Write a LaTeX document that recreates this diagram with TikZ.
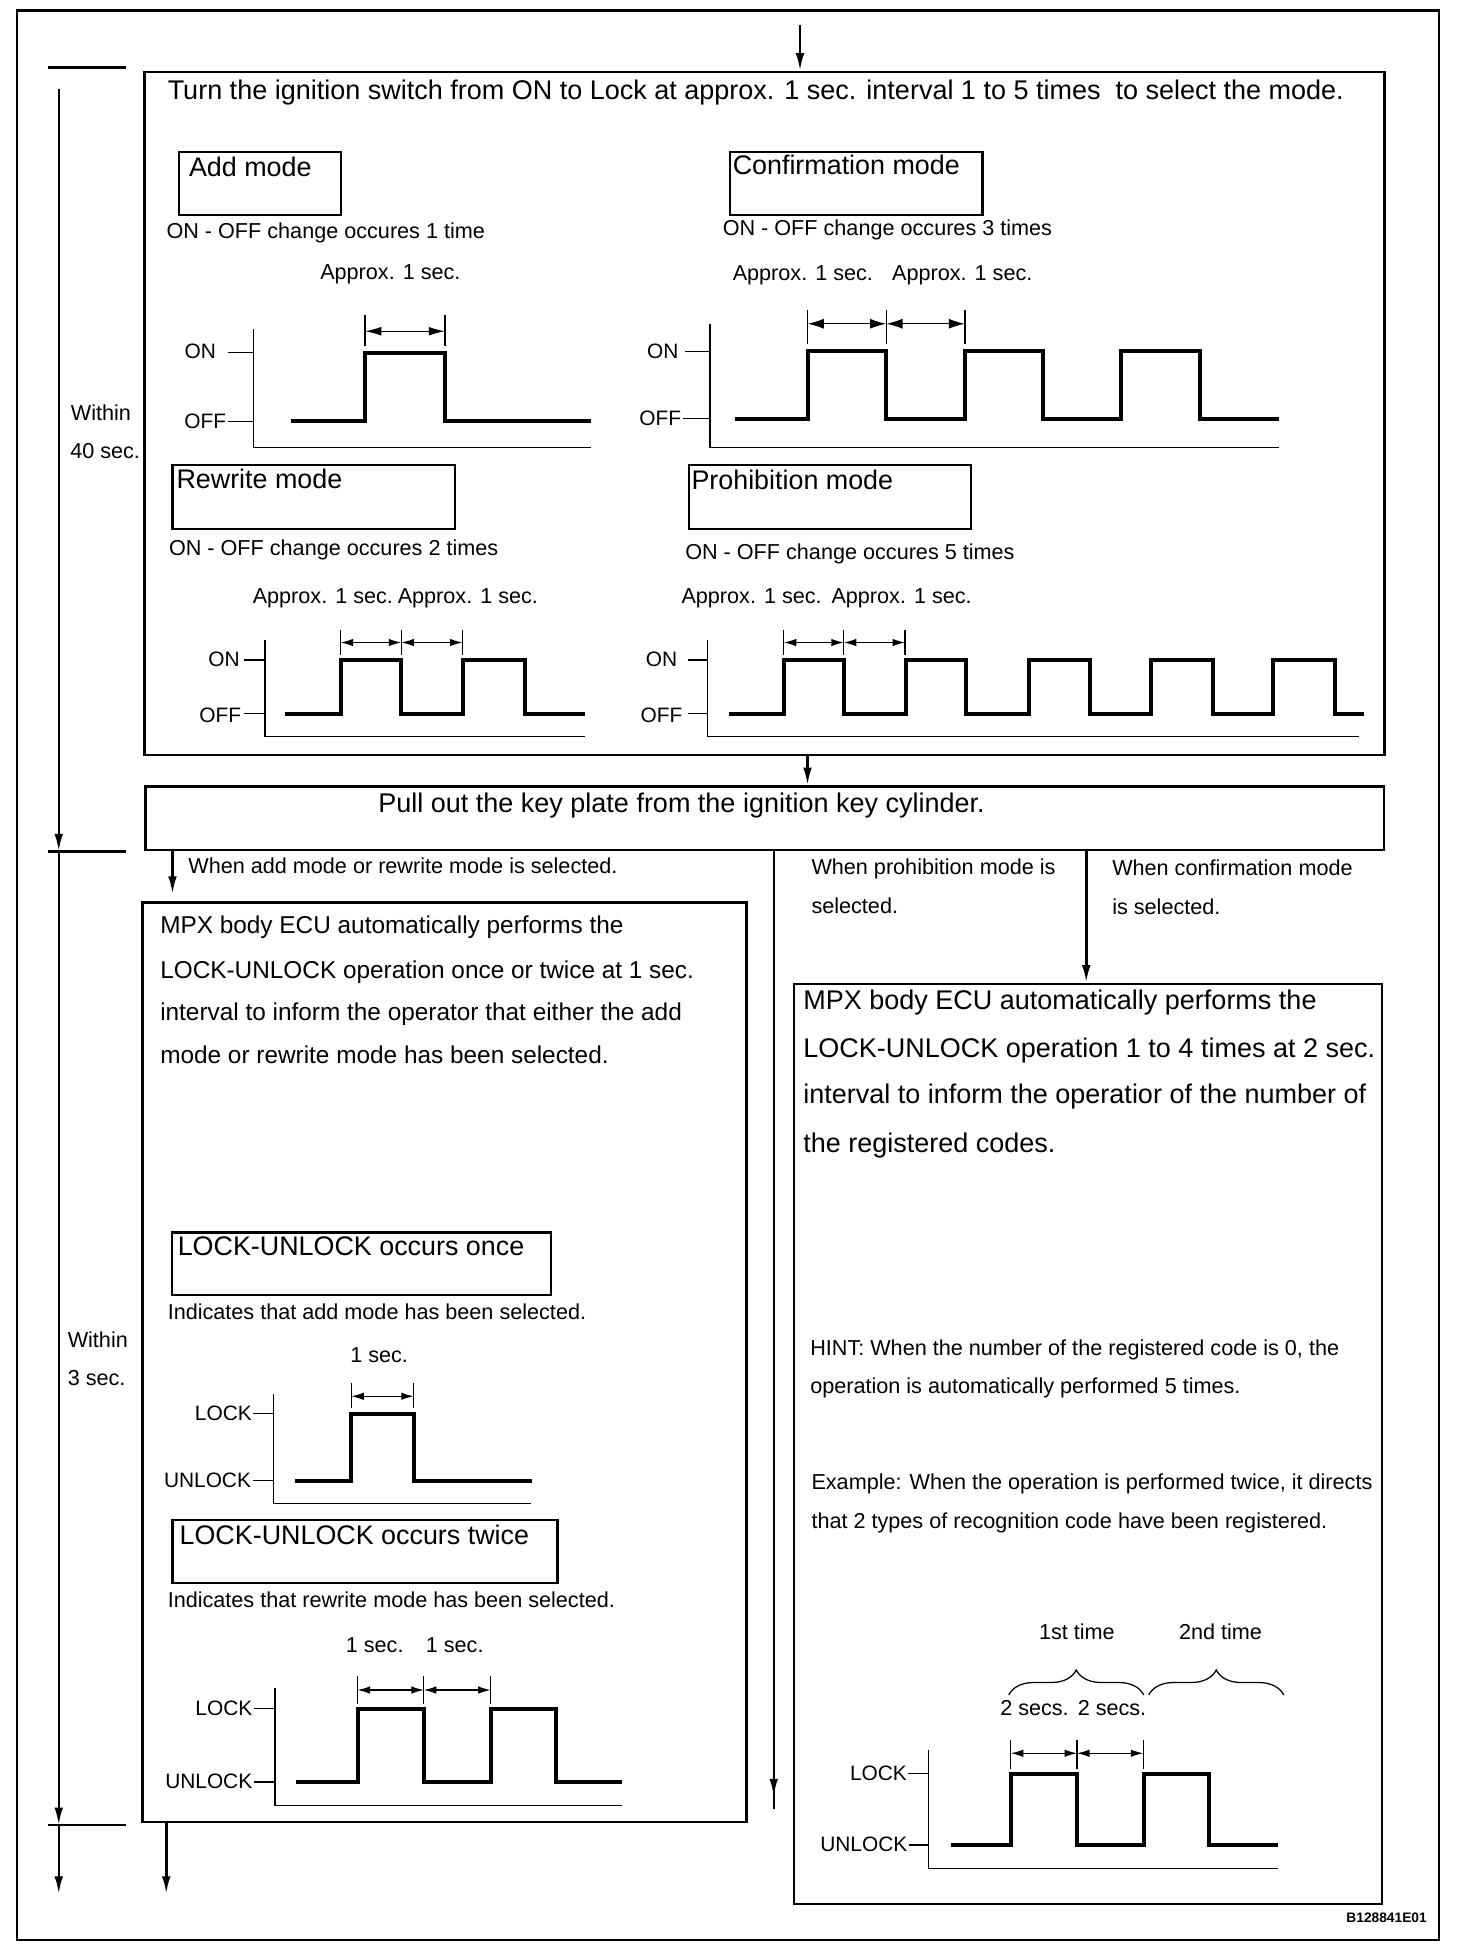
\documentclass[tikz,border=0pt]{standalone}
\usepackage{fontspec}
\setmainfont{Liberation Sans}
\usetikzlibrary{arrows.meta,decorations.pathreplacing,decorations.markings,calc}
\newcommand\fSm{\fontsize{17.3}{20}\selectfont}
\newcommand\fLb{\fontsize{16.7}{20}\selectfont}
\newcommand\fMd{\fontsize{21.5}{25}\selectfont}
\newcommand\fLf{\fontsize{19.5}{23}\selectfont}
\newcommand\fBg{\fontsize{21.6}{25}\selectfont}
\begin{document}
\begin{tikzpicture}[x=1pt,y=-1pt,
  box/.style={draw, line width=2pt, inner sep=0pt, anchor=north west},
  mbox/.style={draw, line width=1.8pt, inner sep=0pt, anchor=north west},
  sig/.style={line width=3.2pt, line join=miter},
  axis/.style={line width=1pt},
  dimtick/.style={line width=0.9pt},
  dimarr/.style={line width=1pt, {Latex[length=10pt,width=6pt]}-{Latex[length=10pt,width=6pt]}},
  tl/.style={line width=2pt},
  flow/.style={line width=2pt, -{Latex[length=14pt,width=7pt]}},
  txt/.style={inner sep=0pt, anchor=mid west, font=\fSm, yshift=-3pt},
  lab/.style={inner sep=0pt, anchor=mid east, font=\fLb, yshift=-2.5pt},
  mtxt/.style={inner sep=0pt, anchor=mid west, font=\fMd, yshift=-4pt},
  ltxt/.style={inner sep=0pt, anchor=mid west, font=\fLf, yshift=-4pt},
  btxt/.style={inner sep=0pt, anchor=mid west, font=\fBg, yshift=-4.5pt},
  brc/.style={line width=1pt, decorate, decoration={brace, amplitude=20pt}}
]
\useasboundingbox (0,0) rectangle (1178,1568);
% outer frame
\node[box, line width=1.8pt, minimum width=1137.5pt, minimum height=1543.5pt] (frame) at (12.5,7.5) {};

% main boxes
\node[box, minimum width=992pt, minimum height=546.5pt] (topbox) at (114.5,56.5) {};
\node[box, minimum width=990.5pt, minimum height=51pt] (pullbox) at (115.5,628) {};
\node[box, minimum width=483pt, minimum height=735.6pt] (leftbox) at (113,721) {};
\node[box, minimum width=470.5pt, minimum height=736pt] (rightbox) at (634,786) {};

% mode boxes
\node[mbox, minimum width=130pt, minimum height=50pt] (addbox) at (142,121) {};
\node[mbox, minimum width=202pt, minimum height=50pt] (confbox) at (583,121) {};
\node[mbox, minimum width=226pt, minimum height=51pt] (rewbox) at (137,371) {};
\node[mbox, minimum width=226pt, minimum height=51pt] (prohbox) at (550,371) {};
\node[mbox, minimum width=303.5pt, minimum height=50pt] (lockonebox) at (136.5,985) {};
\node[mbox, minimum width=308pt, minimum height=50.6pt] (locktwobox) at (137,1215) {};

% texts in top box
\node[btxt] (title) at (134,72.5) {Turn the ignition switch from ON to Lock at approx. 1 sec. interval 1 to 5 times~ to select the mode.};
\node[mtxt] (addt) at (151,134.5) {Add mode};
\node[mtxt] (conft) at (586,133) {Confirmation mode};
\node[mtxt] (rewt) at (141,384) {Rewrite mode};
\node[mtxt] (proht) at (553,385) {Prohibition mode};

\node[txt] (adds) at (133,185.5) {ON - OFF change occures 1 time};
\node[txt] (confs) at (578,183) {ON - OFF change occures 3 times};
\node[txt] (rews) at (135,439) {ON - OFF change occures 2 times};
\node[txt] (prohs) at (548,442) {ON - OFF change occures 5 times};

\node[txt] (adda) at (256,218) {Approx. 1 sec.};
\node[txt] (confa) at (586,219) {Approx. 1 sec.};
\node[txt] (confb) at (713.5,219) {Approx. 1 sec.};
\node[txt] (rewa) at (202,477) {Approx. 1 sec.};
\node[txt] (rewb) at (318,477) {Approx. 1 sec.};
\node[txt] (proha) at (545,477) {Approx. 1 sec.};
\node[txt] (prohb) at (665,477) {Approx. 1 sec.};

% ---- Add chart
\draw[axis] (203,263) -- (203,358) -- (473,358);
\draw[axis] (182,282) -- (203,282);
\draw[axis] (182,337) -- (203,337);
\node[lab] (aon) at (173,282) {ON};
\node[lab] (aoff) at (181,338) {OFF};
\draw[sig] (233,337) -| (292,282) -| (356,337) -- (473,337);
\draw[dimtick] (292,252) -- (292,277) (356,252) -- (356,277);
\draw[dimarr, {Latex[length=13pt,width=7pt]}-{Latex[length=13pt,width=7pt]}] (292,265) -- (356,265);

% ---- Confirmation chart
\draw[axis] (568,259) -- (568,358) -- (1023,358);
\draw[axis] (548,281) -- (568,281);
\draw[axis] (546,335) -- (568,335);
\node[lab] (con) at (543,282) {ON};
\node[lab] (coff) at (545,335) {OFF};
\draw[sig] (588,335) -| (646,281) -| (709,335) -| (772,281) -| (834,335) -| (897,281) -| (960,335) -- (1023,335);
\draw[dimtick] (646,248) -- (646,275) (709,248) -- (709,275) (772,248) -- (772,275);
\draw[dimarr, {Latex[length=13pt,width=8pt]}-{Latex[length=13pt,width=8pt]}] (646,259) -- (709,259);
\draw[dimarr, {Latex[length=13pt,width=8pt]}-{Latex[length=13pt,width=8pt]}] (709,259) -- (772,259);

% ---- Rewrite chart
\draw[axis] (212,512) -- (212,589) -- (468,589);
\draw[axis] (195,528) -- (212,528);
\draw[axis] (195,571) -- (212,571);
\node[lab] (ron) at (192,528) {ON};
\node[lab] (roff) at (193,573) {OFF};
\draw[sig] (228,571) -| (272.5,528) -| (321,571) -| (370,528) -| (420,571) -- (468,571);
\draw[dimtick] (272.5,504) -- (272.5,524) (321,504) -- (321,524) (370,504) -- (370,524);
\draw[dimarr] (272.5,514) -- (321,514);
\draw[dimarr] (321,514) -- (370,514);

% ---- Prohibition chart
\draw[axis] (566,512) -- (566,589) -- (1087,589);
\draw[axis] (550,528) -- (566,528);
\draw[axis] (550,571) -- (566,571);
\node[lab] (pon) at (542,528) {ON};
\node[lab] (poff) at (546,573) {OFF};
\draw[sig] (583,571) -| (627,528) -| (675,571) -| (725,528) -| (773,571) -| (823,528) -| (872,571) -| (921,528) -| (970,571) -| (1018,528) -| (1068,571) -- (1091,571);
\draw[dimtick] (627,504) -- (627,524) (675,504) -- (675,524) (724,504) -- (724,524);
\draw[dimarr] (627,514) -- (675,514);
\draw[dimarr] (675,514) -- (724,514);

% ---- top arrow and connectors
\coordinate (tstart) at (640,20);
\draw[flow] (tstart) -- (topbox.north -| tstart);
\coordinate (xm) at (646,0);
\draw[flow] (topbox.south -| xm) -- (pullbox.north -| xm);
\node[btxt] (pullt) at (302.5,643) {Pull out the key plate from the ignition key cylinder.};

\coordinate (xl) at (138,0);
\draw[flow, shorten >=6pt] (pullbox.south -| xl) -- (leftbox.north -| xl);
\node[txt] (wadd) at (150.5,693) {When add mode or rewrite mode is selected.};

\coordinate (pend) at (619,1447);
\draw[tl, decoration={markings, mark=at position -10pt with {\arrow{Latex[length=14pt,width=7pt]}}}, postaction={decorate}] (pullbox.south -| pend) -- (pend);
\node[txt] (wpa) at (649,693.6) {When prohibition mode is};
\node[txt] (wpb) at (649,725) {selected.};

\coordinate (xc) at (869,0);
\draw[flow] (pullbox.south -| xc) -- (rightbox.north -| xc);
\node[txt] (wca) at (889.6,694.7) {When confirmation mode};
\node[txt] (wcb) at (889.6,725.6) {is selected.};

\coordinate (lend) at (133,1515);
\draw[flow] (leftbox.south -| lend) -- (lend);

% ---- timeline
\coordinate (t0) at (47,71);
\coordinate (t1) at (47,681);
\coordinate (t2) at (47,1460);
\coordinate (t3) at (47,1515);
\draw[tl] (38,54) -- (101,54);
\draw[tl] (38,681) -- (101,681);
\draw[tl] (38,1460) -- (101,1460);
\draw[flow] (t0) -- (t1);
\draw[flow] (t1) -- (t2);
\draw[flow] (t2) -- (t3);
\node[txt] (w40a) at (56.5,330.5) {Within};
\node[txt] (w40b) at (56,361) {40 sec.};
\node[txt] (w3a) at (54,1072) {Within};
\node[txt] (w3b) at (54,1103) {3 sec.};

% ---- left box texts
\node[ltxt] (l1) at (128,740.5) {MPX body ECU automatically performs the};
\node[ltxt] (l2) at (128,776) {LOCK-UNLOCK operation once or twice at 1 sec.};
\node[ltxt] (l3) at (128,810) {interval to inform the operator that either the add};
\node[ltxt] (l4) at (128,844) {mode or rewrite mode has been selected.};

\node[mtxt] (lot) at (142,997.6) {LOCK-UNLOCK occurs once};
\node[mtxt] (ltt) at (143.5,1229) {LOCK-UNLOCK occurs twice};
\node[txt] (lois) at (134,1050) {Indicates that add mode has been selected.};
\node[txt] (ltis) at (134,1280) {Indicates that rewrite mode has been selected.};
\node[txt] (loa) at (280,1084.6) {1 sec.};
\node[txt] (lta) at (276.5,1316) {1 sec.};
\node[txt] (ltb) at (340.5,1316) {1 sec.};

% lock once chart
\draw[axis] (219,1115) -- (219,1203) -- (425,1203);
\draw[axis] (202.5,1131) -- (219,1131);
\draw[axis] (202,1184.5) -- (219,1184.5);
\node[lab] (l1lock) at (201.6,1131) {LOCK};
\node[lab] (l1unl) at (201,1184.5) {UNLOCK};
\draw[sig] (236,1184.5) -| (281,1131) -| (331,1184.5) -- (425.5,1184.5);
\draw[dimtick] (281,1106) -- (281,1126) (331,1106) -- (331,1126);
\draw[dimarr] (281,1117) -- (331,1117);

% lock twice chart
\draw[axis] (220,1350) -- (220,1444.5) -- (497.5,1444.5);
\draw[axis] (203,1367) -- (220,1367);
\draw[axis] (203,1425.5) -- (220,1425.5);
\node[lab] (l2lock) at (202,1367) {LOCK};
\node[lab] (l2unl) at (202,1425.5) {UNLOCK};
\draw[sig] (236.5,1425.5) -| (286,1367) -| (339,1425.5) -| (392.5,1367) -| (445,1425.5) -- (497.5,1425.5);
\draw[dimtick] (286,1341) -- (286,1363) (339,1341) -- (339,1363) (392.5,1341) -- (392.5,1363);
\draw[dimarr] (286,1352) -- (339,1352);
\draw[dimarr] (339,1352) -- (392.5,1352);

% ---- right box texts
\node[btxt] (r1) at (642.5,800.5) {MPX body ECU automatically performs the};
\node[btxt] (r2) at (642.5,838.5) {LOCK-UNLOCK operation 1 to 4 times at 2 sec.};
\node[btxt] (r3) at (642.5,876) {interval to inform the operatior of the number of};
\node[btxt] (r4) at (642.5,914.6) {the registered codes.};

\node[txt] (h1) at (648,1078.4) {HINT: When the number of the registered code is 0, the};
\node[txt] (h2) at (648,1108.8) {operation is automatically performed 5 times.};
\node[txt] (e1) at (649,1186) {Example: When the operation is performed twice, it directs};
\node[txt] (e2) at (649,1217) {that 2 types of recognition code have been registered.};

\node[txt] (first) at (831,1306) {1st time};
\node[txt] (second) at (943,1306) {2nd time};
\draw[brc] (807,1356) -- (915,1356);
\draw[brc] (919,1356) -- (1027,1356);
\node[txt] (sa) at (800,1367) {2 secs.};
\node[txt] (sb) at (862,1367) {2 secs.};

% right chart
\draw[axis] (742.5,1400) -- (742.5,1494.5) -- (1022,1494.5);
\draw[axis] (726.5,1419) -- (742.5,1419);
\draw[axis] (727,1476) -- (742.5,1476);
\node[lab] (rlock) at (725.7,1419) {LOCK};
\node[lab] (runl) at (726,1476) {UNLOCK};
\draw[sig] (761,1476) -| (808.6,1419) -| (861.6,1476) -| (915,1419) -| (967,1476) -- (1022,1476);
\draw[dimtick] (808.6,1392) -- (808.6,1415) (861.6,1392) -- (861.6,1415) (914.7,1392) -- (914.7,1415);
\draw[dimarr] (808.6,1402.6) -- (861.6,1402.6);
\draw[dimarr] (861.6,1402.6) -- (914.7,1402.6);

\node[inner sep=0pt, anchor=mid east, font=\fontsize{11}{13}\selectfont\bfseries, yshift=-2pt] (code) at (1141.6,1533.6) {B128841E01};
\end{tikzpicture}
\end{document}
